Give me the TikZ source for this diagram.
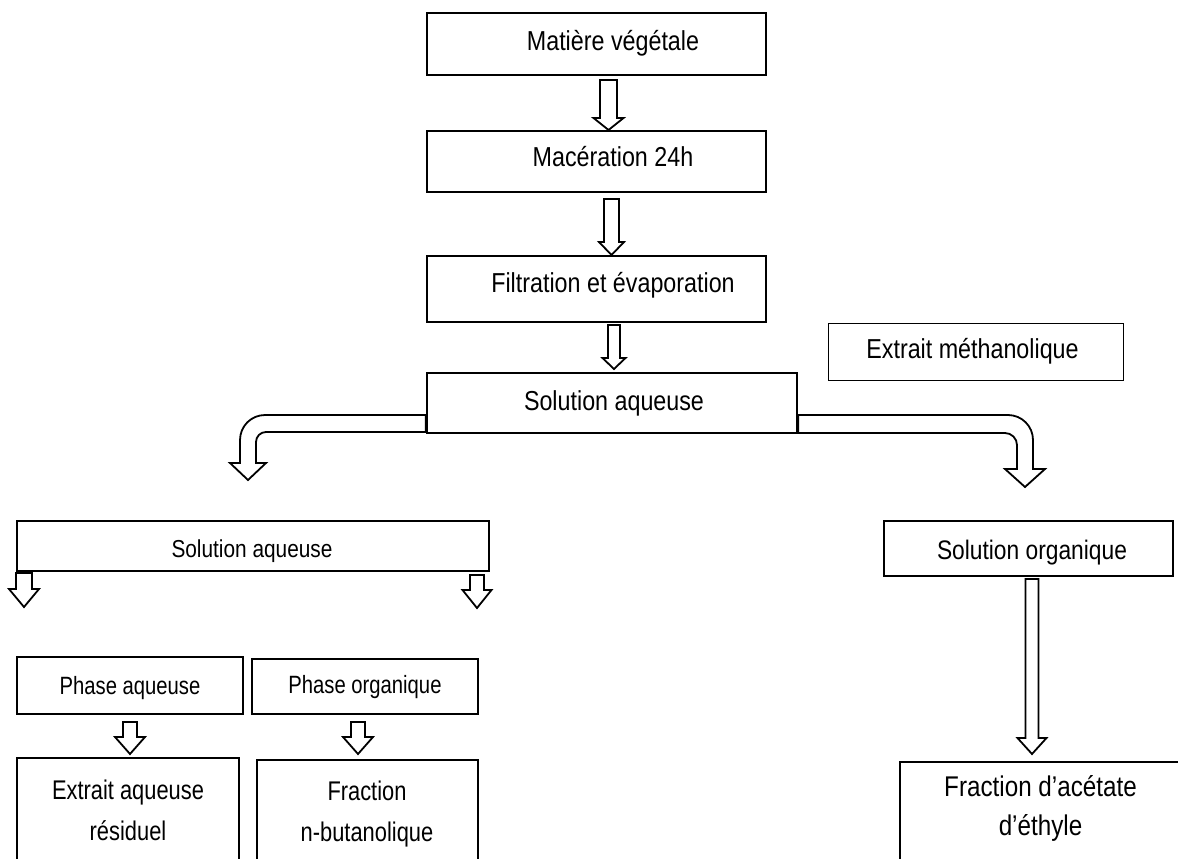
\documentclass[tikz,border=0pt]{standalone}
\usepackage{fontspec}
\setmainfont{Liberation Sans}[FakeStretch=0.85]
\newfontfamily\narrowfont{Liberation Sans}[FakeStretch=0.81]
\usetikzlibrary{calc}
\newcommand\varrow[5]{\draw[arr] let \p1=(#1),\p2=(#2) in
  (\x2-#3,\y1) -- (\x2+#3,\y1) -- (\x2+#3,\y2+#5) -- (\x2+#4,\y2+#5) -- (\x2,\y2)
  -- (\x2-#4,\y2+#5) -- (\x2-#3,\y2+#5) -- cycle;}
\tikzset{
  box/.style={draw, line width=2.4pt, inner sep=0pt, anchor=center},
  thinbox/.style={draw, line width=1pt, inner sep=0pt, anchor=center},
  arr/.style={draw, line width=1.8pt, fill=white, line join=miter, miter limit=4},
  fA/.style={font=\fontsize{27.4}{33}\selectfont, text height=19.6pt, text depth=0pt},
  fSal/.style={font=\fontsize{24.5}{29}\selectfont, text height=22.5pt, text depth=0pt},
  fSo/.style={font=\fontsize{26.8}{32}\selectfont, text height=22.2pt, text depth=0pt},
  fPh/.style={font=\narrowfont\fontsize{25}{30}\selectfont, text height=17.9pt, text depth=0pt},
  fB/.style={font=\narrowfont\fontsize{27}{41}\selectfont, align=center, inner sep=0pt, anchor=base},
  fC/.style={font=\fontsize{28.5}{39}\selectfont, align=center, inner sep=0pt, anchor=base},
}
\begin{document}
\begin{tikzpicture}[x=1pt,y=-1pt]
\useasboundingbox (0,0) rectangle (1178,859);
\clip (0,0) rectangle (1178,859);
% boxes
\node[box, fA, text depth=6pt, minimum width=339pt, minimum height=62pt] (mv) at (596.5,44) {\hspace*{33pt}Matière végétale};
\node[box, fA, text depth=9pt, minimum width=339pt, minimum height=61pt] (mac) at (596.5,161.5) {\hspace*{33pt}Macération 24h};
\node[box, fA, text depth=12pt, minimum width=339pt, minimum height=66pt] (fil) at (596.5,289) {\hspace*{33pt}Filtration et évaporation};
\node[box, fA, text depth=4pt, minimum width=370pt, minimum height=60pt] (sa) at (612,403) {\hspace*{4pt}Solution aqueuse};
\node[thinbox, fA, text depth=6pt, minimum width=295pt, minimum height=57pt] (em) at (975.5,351.5) {Extrait méthanolique\hspace*{6pt}};
\node[box, fSal, minimum width=472pt, minimum height=50pt] (sal) at (253,546) {Solution aqueuse\hspace*{2pt}};
\node[box, fSo, minimum width=289pt, minimum height=55pt] (so) at (1028.5,548.5) {\hspace*{7pt}Solution organique};
\node[box, fPh, minimum width=226pt, minimum height=57pt] (pa) at (130,685.5) {Phase aqueuse};
\node[box, fPh, text depth=3pt, minimum width=226pt, minimum height=55pt] (po) at (365,686.5) {Phase organique};
\node[box, minimum width=222pt, minimum height=142pt] (ea) at (128,829) {};
\node[box, minimum width=221pt, minimum height=140pt] (fb) at (367.5,830) {};
\node[box, minimum width=281pt, minimum height=138pt] (fa) at (1040.5,831) {};
\node[fB] (eat) at (128,840) {Extrait aqueuse\\résiduel};
\node[fB] (fbt) at (367,841) {Fraction\\n-butanolique};
\node[fC] (fat) at (1040.5,835) {Fraction d’acétate\\d’éthyle};
% arrow end points
\coordinate (a1s) at (608.5,80);  \coordinate (a1t) at (608.5,130);
\coordinate (a2s) at (611.5,199); \coordinate (a2t) at (611.5,255);
\coordinate (a3s) at (614,325);   \coordinate (a3t) at (614,369);
\coordinate (l1s) at (24,573);    \coordinate (l1t) at (24,607);
\coordinate (l2s) at (477,575);   \coordinate (l2t) at (477,608);
\coordinate (p1s) at (130,722);   \coordinate (p1t) at (130,754);
\coordinate (p2s) at (358,722);   \coordinate (p2t) at (358,754);
\coordinate (o1s) at (1032,579);  \coordinate (o1t) at (1032,754);
\varrow{a1s}{a1t}{8.5pt}{15pt}{12pt}
\varrow{a2s}{a2t}{7.5pt}{12.5pt}{13pt}
\varrow{a3s}{a3t}{6pt}{11.5pt}{11pt}
\varrow{l1s}{l1t}{8pt}{15pt}{18pt}
\varrow{l2s}{l2t}{7pt}{14.5pt}{18pt}
\varrow{p1s}{p1t}{7pt}{15pt}{17pt}
\varrow{p2s}{p2t}{7pt}{15pt}{17pt}
\varrow{o1s}{o1t}{6.5pt}{14.5pt}{16pt}
% curved block arrows
\draw[arr] (sa.west |- 0,415) -- (265,415) .. controls (251.2,415) and (240,426.2) .. (240,440)
  -- (240,463) -- (230,463) -- (248,480) -- (266,463) -- (256,463) -- (256,442)
  .. controls (256,436.5) and (260.5,432) .. (266,432) -- (sa.west |- 0,432) -- cycle;
\draw[arr] (sa.east |- 0,415) -- (1008,415) .. controls (1021.8,415) and (1033,426.2) .. (1033,440)
  -- (1033,469) -- (1045,469) -- (1025,487) -- (1005,469) -- (1017,469) -- (1017,445)
  .. controls (1017,438.4) and (1011.6,433) .. (1005,433) -- (sa.east |- 0,433) -- cycle;
\end{tikzpicture}
\end{document}
